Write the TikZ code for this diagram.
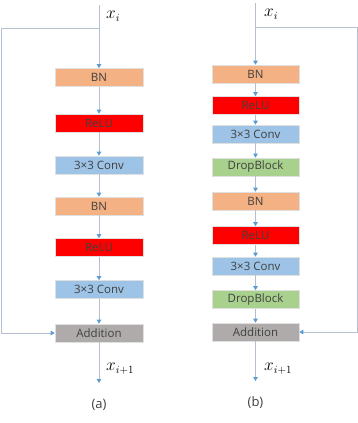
\documentclass[tikz,border=0pt]{standalone}
\usepackage{fontspec}
\setsansfont{Open Sans}
\usetikzlibrary{arrows.meta}
\definecolor{bn}{HTML}{F4B183}
\definecolor{relu}{HTML}{FF0000}
\definecolor{conv}{HTML}{9DC3E6}
\definecolor{drop}{HTML}{A9D18E}
\definecolor{add}{HTML}{AFABAB}
\definecolor{ln}{HTML}{B4C0D0}
\definecolor{tip}{HTML}{5B9BD5}
\definecolor{txt}{HTML}{404040}
\begin{document}
\begin{tikzpicture}[x=1pt,y=-1pt,
  box/.style={minimum height=18pt, inner sep=0pt, draw=white!88!black, line width=0.6pt,
    font=\sffamily\fontsize{11.5}{13}\selectfont, text=txt},
  boxa/.style={box, minimum width=88pt},
  boxb/.style={box, minimum width=87pt},
  arr/.style={draw=ln, line width=0.8pt, -{Triangle[width=4.5pt,length=4pt,color=tip]}},
  mlabel/.style={font=\fontsize{16}{18}\selectfont, inner sep=0pt, anchor=west},
  captxt/.style={font=\sffamily\fontsize{13}{15}\selectfont, text=txt}]
\useasboundingbox (0,0) rectangle (358,423);
% ---- (a)
\node[boxa,fill=bn]   (a1) at (99,77.5)  {BN};
\node[boxa,fill=relu] (a2) at (99,123)   {ReLU};
\node[boxa,fill=conv] (a3) at (99,165)   {3×3 Conv};
\node[boxa,fill=bn]   (a4) at (99,206)   {BN};
\node[boxa,fill=relu] (a5) at (99,247.5) {ReLU};
\node[boxa,fill=conv] (a6) at (99,289.5) {3×3 Conv};
\node[boxa,fill=add]  (a7) at (99,333)   {Addition};
\coordinate (as) at (99,5);
\coordinate (ab) at (99,28);
\coordinate (ac) at (1,28);
\coordinate (ao) at (99,383);
\draw[arr] (as) -- (a1);
\draw[arr] (a1) -- (a2);
\draw[arr] (a2) -- (a3);
\draw[arr] (a3) -- (a4);
\draw[arr] (a4) -- (a5);
\draw[arr] (a5) -- (a6);
\draw[arr] (a6) -- (a7);
\draw[arr] (a7) -- (ao);
\draw[arr] (ab) -- (ac) |- (a7.west);
\node[mlabel] (axi) at (106,16) {$x_i$};
\node[mlabel] (axo) at (106,369) {$x_{i+1}$};
\node[captxt] (acap) at (99,405) {(a)};
% ---- (b)
\node[boxb,fill=bn]   (b1) at (255.5,74)    {BN};
\node[boxb,fill=relu] (b2) at (255.5,105.5) {ReLU};
\node[boxb,fill=conv] (b3) at (255.5,134)   {3×3 Conv};
\node[boxb,fill=drop] (b4) at (255.5,167)   {DropBlock};
\node[boxb,fill=bn]   (b5) at (255.5,201)   {BN};
\node[boxb,fill=relu] (b6) at (255.5,235.5) {ReLU};
\node[boxb,fill=conv] (b7) at (255.5,266)   {3×3 Conv};
\node[boxb,fill=drop] (b8) at (255.5,299.5) {DropBlock};
\node[boxb,fill=add]  (b9) at (255.5,332)   {Addition};
\coordinate (bs) at (255.5,3);
\coordinate (bb) at (255.5,27);
\coordinate (bc) at (357,27);
\coordinate (bo) at (255.5,381);
\draw[arr] (bs) -- (b1);
\draw[arr] (b1) -- (b2);
\draw[arr] (b2) -- (b3);
\draw[arr] (b3) -- (b4);
\draw[arr] (b4) -- (b5);
\draw[arr] (b5) -- (b6);
\draw[arr] (b6) -- (b7);
\draw[arr] (b7) -- (b8);
\draw[arr] (b8) -- (b9);
\draw[arr] (b9) -- (bo);
\draw[arr] (bb) -- (bc) |- (b9.east);
\node[mlabel] (bxi) at (264,14) {$x_i$};
\node[mlabel] (bxo) at (264,369) {$x_{i+1}$};
\node[captxt] (bcap) at (255.5,403) {(b)};
\end{tikzpicture}
\end{document}
